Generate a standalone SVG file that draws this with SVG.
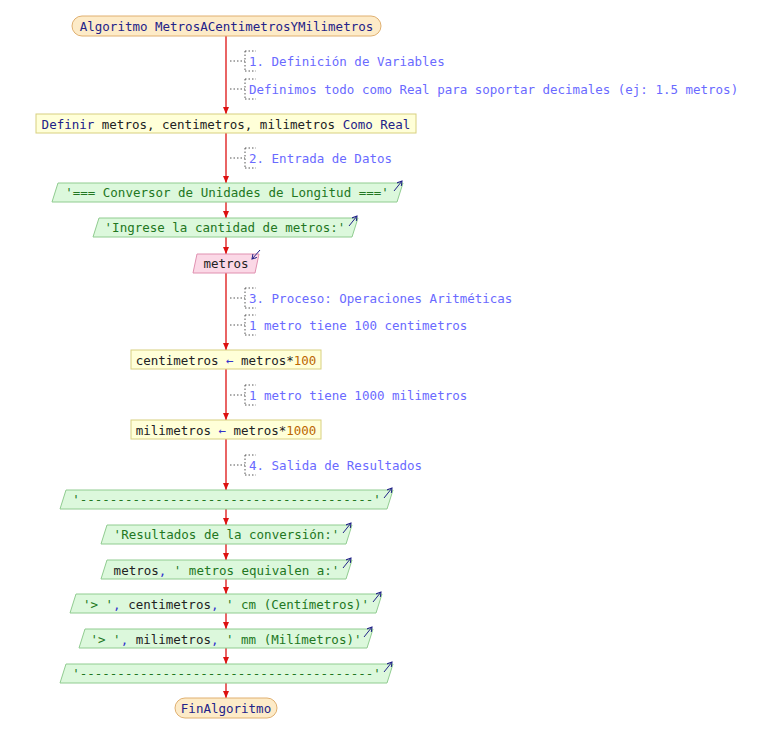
<svg xmlns="http://www.w3.org/2000/svg" width="768" height="746" viewBox="0 0 768 746">
<defs>
<marker id="ah" markerWidth="8" markerHeight="8" refX="7" refY="4" orient="auto" markerUnits="userSpaceOnUse"><path d="M0,1 L7,4 L0,7 z" fill="#dd1111"/></marker>
<marker id="sa" markerWidth="6" markerHeight="6" refX="5" refY="3" orient="auto" markerUnits="userSpaceOnUse"><path d="M0,0 L5,3 L0,6" fill="none" stroke="#222288" stroke-width="1"/></marker>
<style>
text{font-family:"DejaVu Sans Mono","Liberation Mono",monospace;font-size:12.5px;dominant-baseline:central}
.k{fill:#222288}.c{fill:#6a6aff}.g{fill:#227722}.b{fill:#222}.n{fill:#bb6600}.p{fill:#3333cc}
.term{fill:#fdebc8;stroke:#e0b070}
.proc{fill:#ffffd8;stroke:#d8d080}
.out{fill:#dcf8dc;stroke:#90cc90}
.inp{fill:#fbd8e6;stroke:#e090b0}
.dot{stroke:#555;stroke-dasharray:1.5,2;fill:none}
.flow{stroke:#dd1111;stroke-width:1.3;fill:none}
.ic{stroke:#222288;stroke-width:1;fill:none}
</style>
</defs>
<g id="connectors">
<path class="flow" marker-end="url(#ah)" d="M226,36 V114"/>
<path class="flow" marker-end="url(#ah)" d="M226,133 V183"/>
<path class="flow" marker-end="url(#ah)" d="M226,202 V218"/>
<path class="flow" marker-end="url(#ah)" d="M226,237 V254"/>
<path class="flow" marker-end="url(#ah)" d="M226,273 V350"/>
<path class="flow" marker-end="url(#ah)" d="M226,369 V420"/>
<path class="flow" marker-end="url(#ah)" d="M226,439 V490"/>
<path class="flow" marker-end="url(#ah)" d="M226,509 V525"/>
<path class="flow" marker-end="url(#ah)" d="M226,544 V560"/>
<path class="flow" marker-end="url(#ah)" d="M226,579 V594"/>
<path class="flow" marker-end="url(#ah)" d="M226,613 V629"/>
<path class="flow" marker-end="url(#ah)" d="M226,648 V664"/>
<path class="flow" marker-end="url(#ah)" d="M226,683 V698"/>
</g>
<g id="start"><rect class="term" x="72" y="16" width="309" height="20" rx="10"/><text x="226.5" y="26" text-anchor="middle" class="k">Algoritmo MetrosACentimetrosYMilimetros</text></g>
<g id="c1"><path class="dot" d="M230,61 H245 M245,51 V71 M245,51 H256 M245,71 H256"/><text x="249" y="61" class="c">1. Definición de Variables</text></g>
<g id="c2"><path class="dot" d="M230,89 H245 M245,79 V99 M245,79 H256 M245,99 H256"/><text x="249" y="89" class="c">Definimos todo como Real para soportar decimales (ej: 1.5 metros)</text></g>
<g id="def"><rect class="proc" x="36" y="114" width="380" height="19"/><text x="226" y="123.5" text-anchor="middle"><tspan class="k">Definir</tspan><tspan class="b"> metros, centimetros, milimetros </tspan><tspan class="k">Como Real</tspan></text></g>
<g id="c3"><path class="dot" d="M230,158 H245 M245,148 V168 M245,148 H256 M245,168 H256"/><text x="249" y="158" class="c">2. Entrada de Datos</text></g>
<g id="o1"><path class="out" d="M58,183 H403 L397,202 H52 Z"/><text x="227" y="192.5" text-anchor="middle" class="g">'=== Conversor de Unidades de Longitud ==='</text><path class="ic" marker-end="url(#sa)" d="M394,191 L402,181"/></g>
<g id="o2"><path class="out" d="M99,218 H358 L352,237 H93 Z"/><text x="225" y="227.5" text-anchor="middle" class="g">'Ingrese la cantidad de metros:'</text><path class="ic" marker-end="url(#sa)" d="M349,226 L357,216"/></g>
<g id="in"><path class="inp" d="M197,254 H259 L255,273 H193 Z"/><text x="226" y="263.5" text-anchor="middle" class="b">metros</text><path class="ic" marker-end="url(#sa)" d="M260,250 L252,259"/></g>
<g id="c4"><path class="dot" d="M230,298 H245 M245,288 V308 M245,288 H256 M245,308 H256"/><text x="249" y="298" class="c">3. Proceso: Operaciones Aritméticas</text></g>
<g id="c5"><path class="dot" d="M230,325 H245 M245,315 V335 M245,315 H256 M245,335 H256"/><text x="249" y="325" class="c">1 metro tiene 100 centimetros</text></g>
<g id="a1"><rect class="proc" x="131" y="350" width="190" height="19"/><text x="226" y="359.5" text-anchor="middle"><tspan class="b">centimetros </tspan><tspan class="p">←</tspan><tspan class="b"> metros*</tspan><tspan class="n">100</tspan></text></g>
<g id="c6"><path class="dot" d="M230,395 H245 M245,385 V405 M245,385 H256 M245,405 H256"/><text x="249" y="395" class="c">1 metro tiene 1000 milimetros</text></g>
<g id="a2"><rect class="proc" x="131" y="420" width="190" height="19"/><text x="226" y="429.5" text-anchor="middle"><tspan class="b">milimetros </tspan><tspan class="p">←</tspan><tspan class="b"> metros*</tspan><tspan class="n">1000</tspan></text></g>
<g id="c7"><path class="dot" d="M230,465 H245 M245,455 V475 M245,455 H256 M245,475 H256"/><text x="249" y="465" class="c">4. Salida de Resultados</text></g>
<g id="o3"><path class="out" d="M66,490 H393 L387,509 H60 Z"/><text x="226.5" y="499.5" text-anchor="middle" class="g">'---------------------------------------'</text><path class="ic" marker-end="url(#sa)" d="M384,498 L392,488"/></g>
<g id="o4"><path class="out" d="M107,525 H352 L346,544 H101 Z"/><text x="226.5" y="534.5" text-anchor="middle" class="g">'Resultados de la conversión:'</text><path class="ic" marker-end="url(#sa)" d="M343,533 L351,523"/></g>
<g id="o5"><path class="out" d="M107,560 H352 L346,579 H101 Z"/><text x="226.5" y="569.5" text-anchor="middle"><tspan class="b">metros</tspan><tspan class="p">,</tspan><tspan class="g"> ' metros equivalen a:'</tspan></text><path class="ic" marker-end="url(#sa)" d="M343,568 L351,558"/></g>
<g id="o6"><path class="out" d="M76,594 H382 L376,613 H70 Z"/><text x="226" y="603.5" text-anchor="middle"><tspan class="g">'&gt; '</tspan><tspan class="p">,</tspan><tspan class="b"> centimetros</tspan><tspan class="p">,</tspan><tspan class="g"> ' cm (Centímetros)'</tspan></text><path class="ic" marker-end="url(#sa)" d="M373,602 L381,592"/></g>
<g id="o7"><path class="out" d="M85,629 H373 L367,648 H79 Z"/><text x="226" y="638.5" text-anchor="middle"><tspan class="g">'&gt; '</tspan><tspan class="p">,</tspan><tspan class="b"> milimetros</tspan><tspan class="p">,</tspan><tspan class="g"> ' mm (Milímetros)'</tspan></text><path class="ic" marker-end="url(#sa)" d="M364,637 L372,627"/></g>
<g id="o8"><path class="out" d="M66,664 H393 L387,683 H60 Z"/><text x="226.5" y="673.5" text-anchor="middle" class="g">'---------------------------------------'</text><path class="ic" marker-end="url(#sa)" d="M384,672 L392,662"/></g>
<g id="end"><rect class="term" x="175" y="698" width="102" height="20" rx="10"/><text x="226" y="708" text-anchor="middle" class="k">FinAlgoritmo</text></g>
</svg>
